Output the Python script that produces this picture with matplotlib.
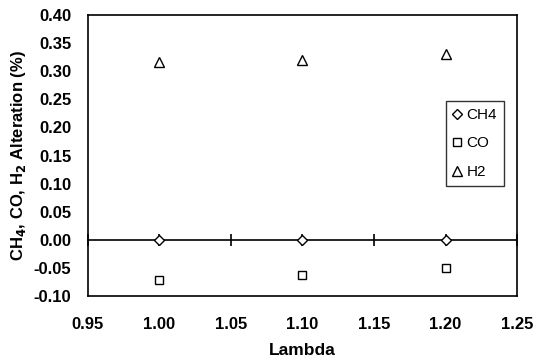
import numpy as np
import matplotlib.pyplot as plt

plt.rcParams['font.family'] = ['Liberation Sans', 'DejaVu Sans']
plt.rcParams['mathtext.default'] = 'bf'

# data
lam = [1.00, 1.10, 1.20]
ch4 = [0.0, 0.0, 0.0]
co = [-0.071, -0.063, -0.050]
h2 = [0.317, 0.320, 0.331]
xticks = [0.95, 1.00, 1.05, 1.10, 1.15, 1.20, 1.25]
yticks = [-0.10, -0.05, 0.00, 0.05, 0.10, 0.15, 0.20, 0.25, 0.30, 0.35, 0.40]

fig = plt.figure(figsize=(5.36, 3.6), dpi=100)
ax = fig.add_axes([0.164, 0.178, 0.8006, 0.780])

# zero line with crossing tick marks (excel style)
ax.axhline(0, color='black', lw=1.2, zorder=1)
ax.plot(xticks, [0] * len(xticks), linestyle='none', marker='|',
        markersize=8, markeredgewidth=1.2, color='black', zorder=1,
        clip_on=False)

ax.plot(lam, ch4, linestyle='none', marker='D', markersize=5,
        mfc='white', mec='black', mew=1.0, label='CH4', zorder=3)
ax.plot(lam, co, linestyle='none', marker='s', markersize=5.5,
        mfc='white', mec='black', mew=1.0, label='CO', zorder=3)
ax.plot(lam, h2, linestyle='none', marker='^', markersize=7,
        mfc='white', mec='black', mew=1.0, label='H2', zorder=3)

ax.set_xlim(0.95, 1.25)
ax.set_ylim(-0.10, 0.40)
ax.set_xticks(xticks)
ax.set_yticks(yticks)
ax.set_xticklabels(['%.2f' % v for v in xticks], fontweight='bold', fontsize=12)
ax.set_yticklabels(['%.2f' % v for v in yticks], fontweight='bold', fontsize=12)
ax.tick_params(axis='x', length=0, pad=15)
ax.tick_params(axis='y', length=0, pad=12)

for s in ax.spines.values():
    s.set_linewidth(1.2)

ax.set_xlabel('Lambda', fontweight='bold', fontsize=12.5, labelpad=8)
ax.set_ylabel('CH$_4$, CO, H$_2$ Alteration (%)', fontweight='bold', fontsize=12, labelpad=4)

leg = ax.legend(loc='upper left', bbox_to_anchor=(0.834, 0.694), fontsize=11,
                frameon=True, fancybox=False, edgecolor='black',
                handlelength=0.55, handletextpad=0.35, labelspacing=0.95,
                borderpad=0.45, borderaxespad=0)
leg.get_frame().set_linewidth(1.0)

fig.savefig('out.png', dpi=100)
